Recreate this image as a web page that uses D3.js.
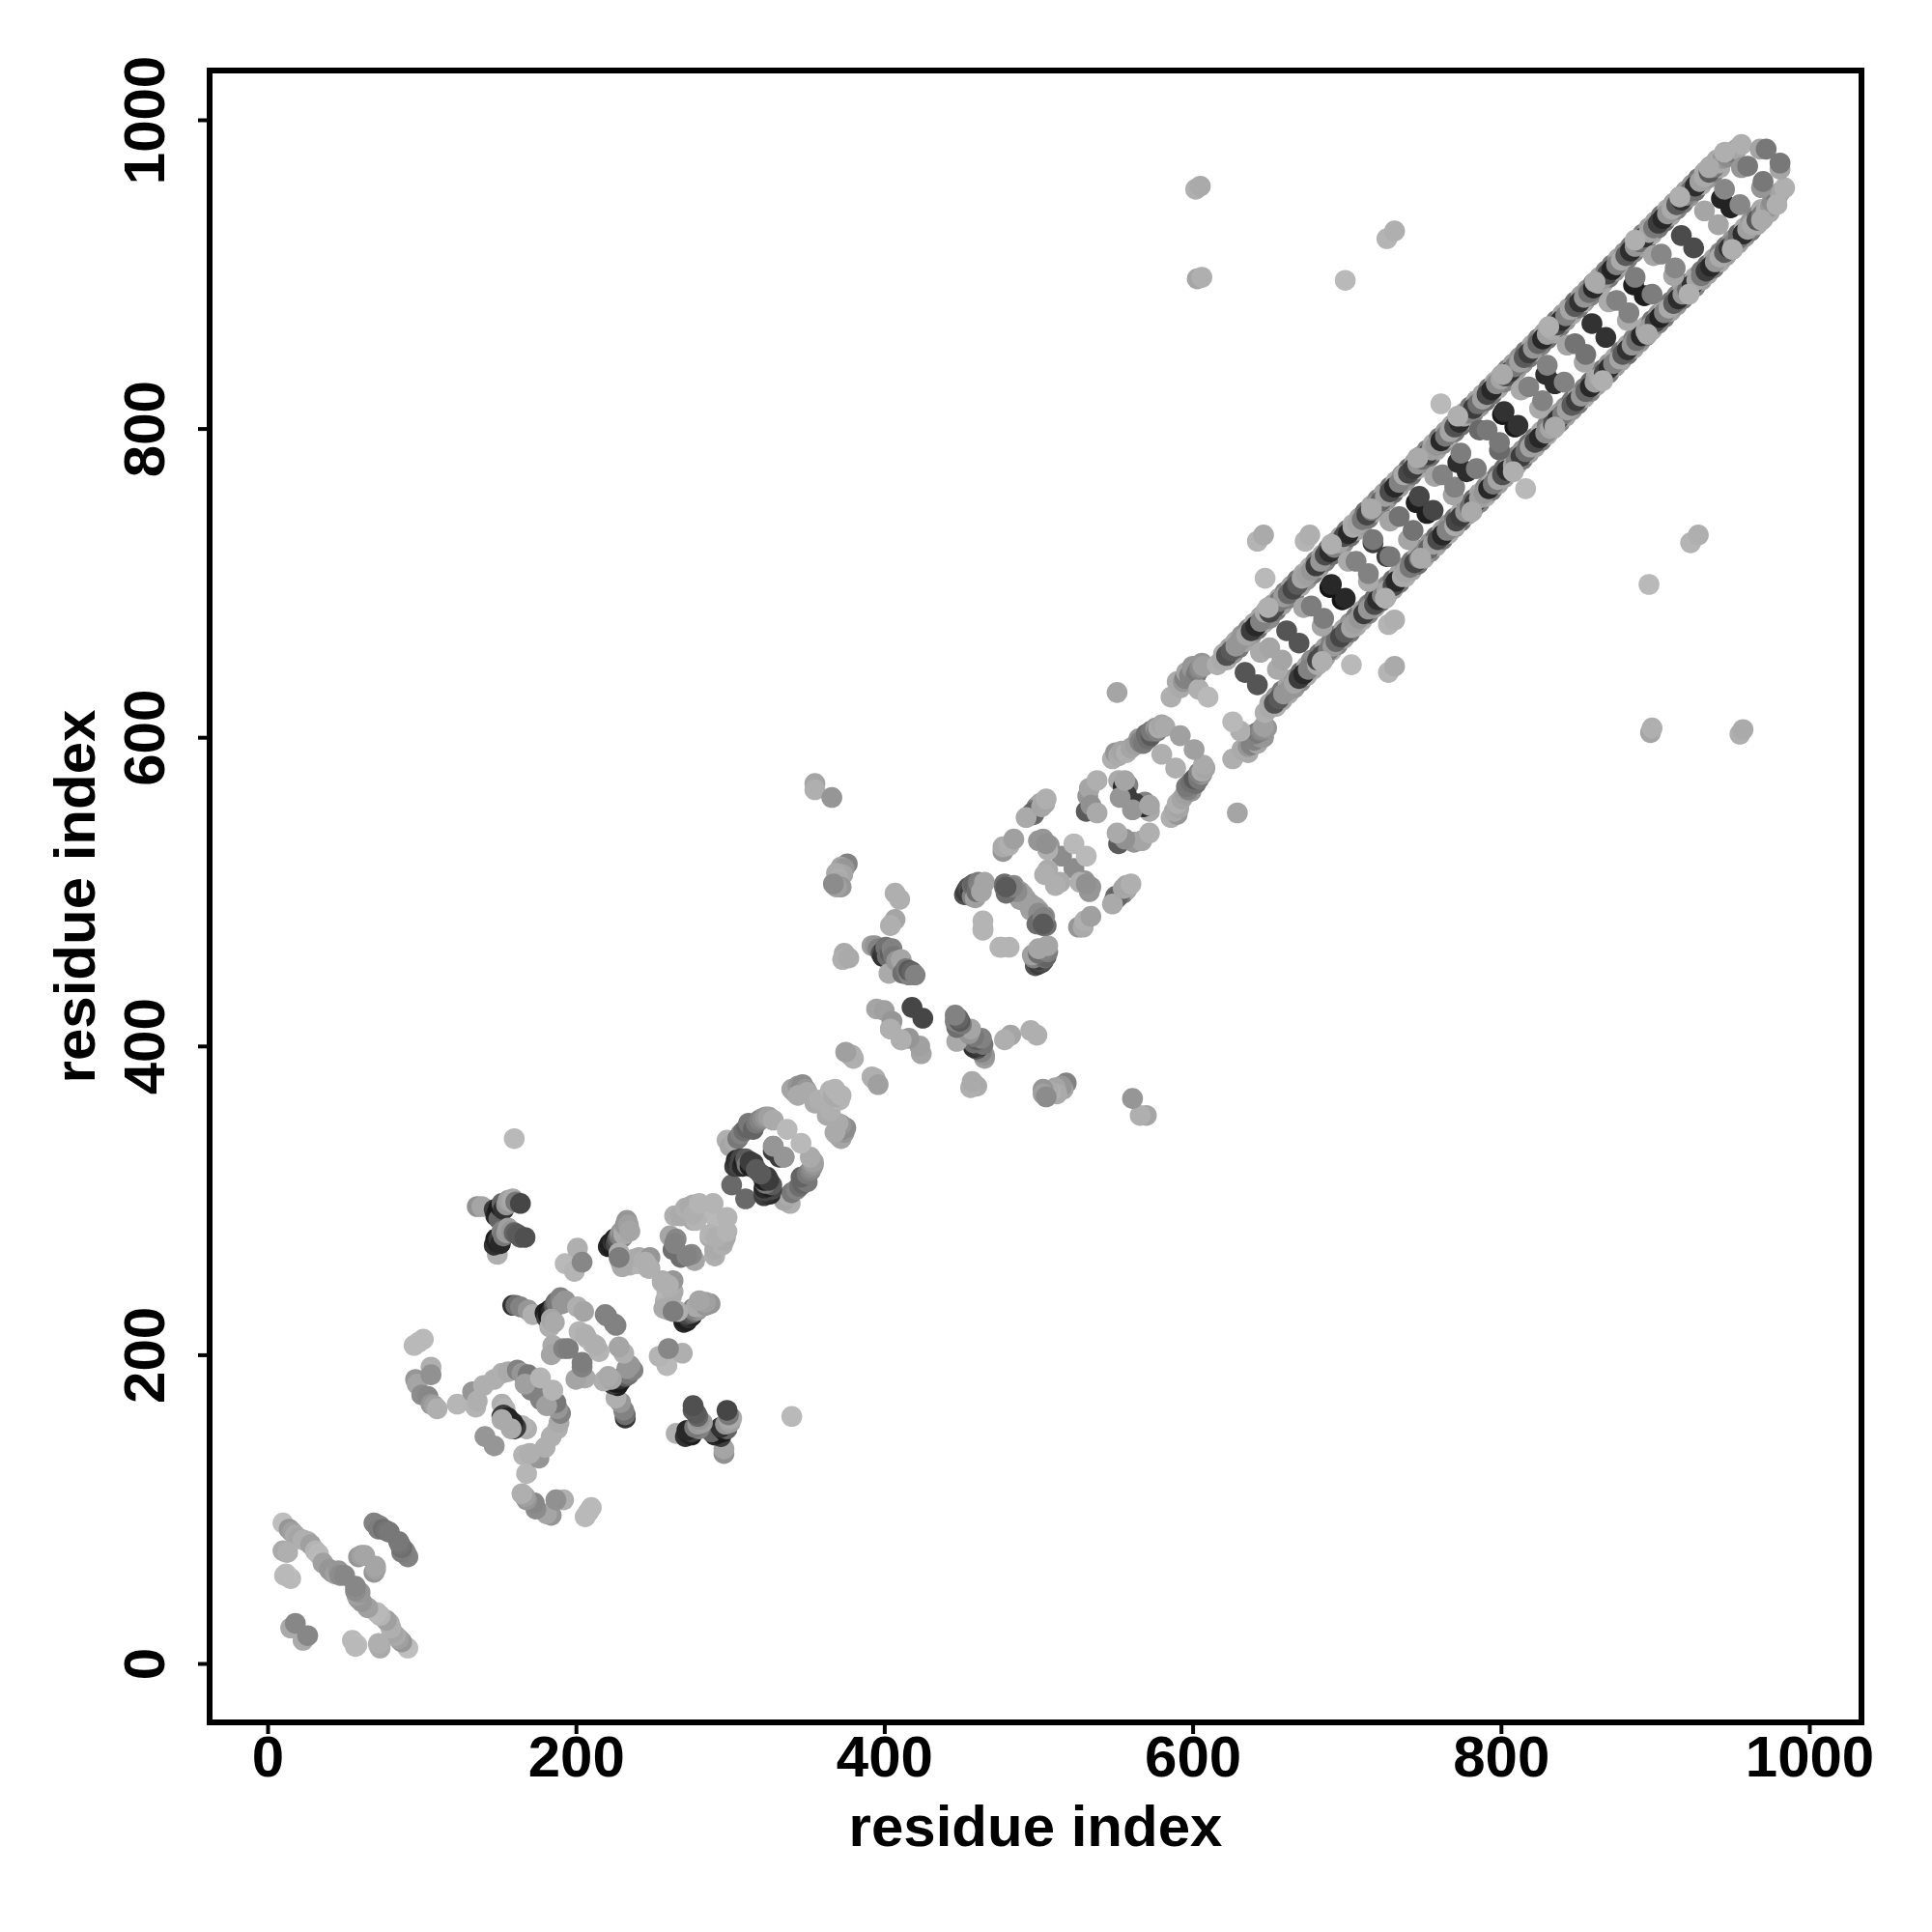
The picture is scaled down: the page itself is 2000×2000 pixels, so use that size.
<!DOCTYPE html>
<html><head><meta charset="utf-8">
<script src="https://cdn.jsdelivr.net/npm/d3@7"></script>
<style>html,body{margin:0;padding:0;background:#fff}</style></head>
<body><div id="chart"></div>
<script>
// contacts as [residue a, residue b, grey level]; the map is symmetric so each is drawn at (a,b) and (b,a)
const tickLabels = [0,200,400,600,800,1000];
const axisTitle = "residue index";
const lowBlock = [[10,91,190],[14,87,150],[16,85,160],[18,83,170],[20,81,165],[23,80,175],[26,79,175],[28,77,160],[31,73,180],[33,71,185],[36,65,160],[40,61,150],[42,59,150],[44,58,160],[46,60,150],[47,57,140],[50,57,135],
 [69,91,130],[71,90,130],[73,89,130],[72,87,125],[75,87,110],[77,86,115],[79,85,120],[59,69,150],[61,70,160],[63,70,165],[12,72,180],[10,73,170],[13,72,175],[15,55,185],[12,58,190],[11,57,185],[15,23,170],[18,26,135]];
const block100 = [[95,206,185],[98,208,185],[101,210,185],[96,184,150],[97,181,165],[106,192,175],[106,187,145],[100,174,140],[104,173,135],[106,168,150],[108,167,160],[110,165,175],
 [123,168,182],[133,176,150],[135,166,180],[136,170,175],[140,180,175],[147,184,175],[152,188,175],[156,189,170],[162,190,130],[165,188,150],[169,187,120],[171,177,130],[173,178,130],[167,181,160],[177,185,180],
 [141,147,150],[152,168,175],[154,165,180],[152,160,40],[153,161,60],[156,159,35],[152,158,170],
 [160,340,185],[136,296,145],[139,296,165],[147,294,60],[148,290,40],[149,292,30],[150,295,25],[150,288,100],[151,296,30],[152,298,100],[153,294,50],[155,297,150],[156,300,160],[158,299,165],[159,301,170],[161,299,120],[164,298,70],
 [149,265,175],[147,271,50],[148,275,30],[149,273,35],[150,275,60],[151,272,40],[152,280,130],[153,277,120],[155,279,155],[156,282,160],[158,280,150],[160,279,100],[162,278,90],[164,276,90],[167,276,80]];
const block200 = [[159,232,50],[161,232,110],[164,231,130],[169,229,150],[172,226,175],[180,227,30],[181,224,60],[182,226,25],[183,229,25],[184,228,40],[185,230,50],[186,232,90],[187,234,110],[188,233,120],[190,237,130],[191,233,150],[193,235,150],[183,218,175],[184,223,165],[186,221,170],
 [185,206,170],[184,200,165],[192,204,130],[195,204,125],[201,231,175],[205,228,165],[202,215,180],[207,211,180],[213,206,175],[220,225,125],[226,219,130],
 [193,259,185],[199,254,180],[201,269,175],[204,260,135],[221,270,40],[222,272,30],[223,270,30],[224,273,50],[225,275,35],[226,272,70],[227,275,90],[228,277,120],[229,279,150],[230,276,130],[231,281,160],[231,278,170],[232,284,150],[233,287,150],[234,284,160],[235,280,165],
 [229,260,175],[231,258,175],[235,258,175],[238,262,175],[240,259,180],[241,263,170],[244,261,175],[246,259,170],[248,263,150],[248,256,170],[228,266,175],[257,230,170],[256,247,175],[260,245,175],[263,228,125],
 [261,277,165],[265,275,135],[263,268,110],[264,272,130],[264,290,175],[268,290,170],[271,295,175],[274,296,170],[276,297,170],[276,287,170],[279,293,175],[282,296,180],[285,292,185],[287,295,185],[287,278,180],[289,298,180],[291,276,175],[298,280,180]];
const block300 = [[301,310,105],[298,339,175],[300,335,165],[303,338,170],[305,340,120],[307,343,130],[309,345,110],[311,347,100],[313,349,130],[303,322,60],[304,326,40],[305,324,50],[306,322,70],[307,327,70],[308,322,40],[309,325,30],[310,327,90],[311,323,120],[312,350,120],[313,322,30],[313,325,60],[315,346,100],[315,324,60],[317,350,120],[317,320,90],[319,352,130],[321,353,140],[323,354,150],[325,354,160],[328,352,170],
 [328,335,150],[328,332,60],[335,328,150],[337,346,185],[340,372,165],[342,370,165],[344,374,150],[346,372,130],[347,375,140],[349,372,150],[350,370,170],[344,368,170],[355,363,170],[358,365,175],[365,371,180],[367,368,170],[368,372,180],
 [355,570,165],[355,566,175],[366,561,150],[376,518,130],[372,516,165],[374,515,150],[373,511,165],[369,512,170],[370,508,175],[371,506,170],[372,503,150],[369,503,160],[367,505,140],
 [407,499,175],[410,495,175],[407,482,165],[404,478,175],[374,460,170],[373,456,175],[377,457,170],
 [392,465,160],[394,465,150],[396,463,130],[398,460,80],[399,458,50],[400,462,60],[401,464,115],[402,458,110],[403,447,170],[404,460,95],[405,463,130],[406,458,120],[408,455,150],[411,456,165],[412,447,110],[414,450,120],[416,446,130],[416,449,90],[418,448,100],[420,446,130],
 [378,394,170],[380,392,175],[394,379,175],[396,375,160],[395,424,165],[400,423,160],[404,411,160],[405,416,150],[411,404,175],[418,425,70]];
const block500 = [[452,498,80],[453,500,60],[454,502,70],[455,503,80],[456,500,60],[457,497,130],[457,504,110],[458,505,100],[459,496,160],[460,500,110],[461,506,125],[462,504,130],[463,500,165],[465,506,165],[464,481,180],[464,476,180],[475,464,180],[478,503,100],[478,505,110],[480,503,120],[481,500,130],[482,502,135],[484,504,140],[486,501,150],[488,500,155],[490,498,160],[492,495,160],[494,491,150],[495,488,160],[497,490,160],[500,486,140],[499,479,110],[503,483,130],[503,479,90],
 [500,533,150],[494,549,120],[497,550,110],[499,555,130],[501,557,165],[498,553,120],[496,551,100],[492,548,170],[502,555,165],[503,558,170],[504,557,165],[505,560,175],[477,526,150],[477,529,170],[481,530,175],[484,534,160],
 [503,534,150],[507,530,150],[515,523,140],[523,531,185],[506,514,170],[506,527,175],[505,531,145],[504,511,175],
 [551,629,165],[531,552,90],[532,562,150],[533,567,165],[534,556,145],[538,551,170],[538,572,175],
 [552,572,170],[555,568,40],[558,569,130],[557,563,60],[553,561,150],[556,572,165],
 [548,586,175],[550,590,150],[552,588,170],[554,591,165],[557,590,175],[560,593,165],[563,595,160],[565,599,150],[566,597,130],[568,596,120],[570,602,110],[571,599,110],[573,601,90],[573,604,120],[575,604,120],[576,606,150],[577,604,130],[578,606,170],[580,608,165],[582,607,170],
 [580,589,175],[592,601,160],[586,626,175],[590,636,170],[592,632,170],[594,636,150],[595,638,130],[596,642,165],[598,640,130],[600,644,150],[600,646,150],[602,640,130],[603,642,120],[604,631,175],[604,644,130],[605,645,140],[606,648,150],[607,646,160],[610,626,185],
 [602,955,175],[605,957,170],[603,897,165],[606,898,175],[699,896,185],[726,923,180],[731,928,175],[761,816,185],
 [642,727,180],[646,731,170],[673,727,180],[676,731,175],[647,703,185]];
const strandInner = [[622,650,170],[626,654,150],[630,658,120],[634,662,165],[638,666,150],[642,670,110],[646,674,170],[650,677,140],[654,682,120],[658,686,160],[662,690,130],[666,694,110],[670,698,170],[674,702,150],[678,706,120],[682,710,160],[686,714,130],[690,718,110],[694,722,170],[698,726,140],[702,730,110],[706,734,165],[710,738,150],[714,742,120],[718,746,170],[722,750,130],[726,754,150],[730,758,110],[734,762,160],[738,766,150],[742,770,120],[746,774,170],[750,778,130],[754,782,110],[758,786,165],[762,790,140],[766,794,170],[770,798,120],[774,802,110],[778,806,165],[782,810,130],[786,814,150],[790,818,110],[794,822,120],[798,826,170],[802,830,130],[806,834,110],[810,838,160],[814,842,150],[818,846,120],[822,850,165],[826,854,130],[830,858,110],[834,862,170],[838,866,120],[842,870,150],[846,874,170],[850,878,120],[854,882,165],[858,886,130],[862,890,110],[866,894,170],[870,898,120],[874,902,150],[878,906,170],[882,910,120],[886,914,130],[890,918,165],[894,922,110],[898,926,170],[902,930,120],[906,934,110],[910,938,165],[914,942,130],[918,946,120],[922,950,150],[926,954,110],[930,958,170],[934,962,150],[938,966,130],[942,969,170]];
const strandUpper = [[620,654,175],[624,658,165],[628,662,170],[632,666,150],[636,670,140],[640,674,170],[644,678,165],[648,682,130],[652,686,160],[656,690,170],[660,694,130],[664,698,160],[668,702,120],[672,706,170],[676,710,175],[680,714,130],[684,718,165],[688,722,110],[692,726,160],[696,730,165],[700,734,120],[704,738,175],[708,742,165],[712,746,110],[716,750,170],[720,754,130],[724,758,165],[728,762,120],[732,766,170],[736,770,150],[740,774,110],[744,778,165],[748,782,150],[752,786,130],[756,790,170],[760,794,120],[764,798,160],[768,802,165],[772,806,130],[776,810,170],[780,814,120],[784,818,160],[788,822,165],[792,826,120],[796,830,170],[800,834,165],[804,838,130],[808,842,160],[812,846,150],[816,850,120],[820,854,170],[824,858,130],[828,862,165],[832,866,170],[836,870,120],[840,874,160],[844,878,165],[848,882,110],[852,886,160],[856,890,150],[860,894,120],[864,898,170],[868,902,130],[872,906,120],[876,910,165],[880,914,150],[884,918,120],[888,922,170],[892,926,130],[896,930,160],[900,934,165],[904,938,120],[908,942,170],[912,946,160],[916,950,130],[920,954,160],[924,958,150],[928,962,120],[932,966,170],[936,970,165],[940,974,170]];
const strand = [[616,647,175],[619,650,170],[622,653,80],[625,656,90],[628,659,150],[631,663,150],[635,666,165],[638,669,60],[641,672,40],[644,675,130],[647,681,170],[650,681,70],[653,684,75],[656,688,120],[659,691,155],[662,693,105],[665,696,70],[668,699,90],[671,703,165],[674,705,160],[677,708,150],[680,711,60],[683,714,150],[686,718,75],[689,720,45],[692,723,130],[695,726,165],[698,730,75],[701,732,40],[704,736,170],[707,738,165],[710,741,120],[713,744,70],[716,747,120],[719,751,150],[722,753,100],[725,756,160],[728,759,75],[731,762,40],[734,765,130],[737,770,170],[740,771,70],[743,774,60],[746,777,150],[749,780,110],[752,783,60],[755,786,160],[758,789,150],[761,792,40],[764,795,120],[767,798,165],[770,801,80],[773,804,45],[776,808,165],
 [779,810,130],[782,813,60],[785,816,110],[788,819,160],[791,822,70],[794,825,40],[797,829,140],[800,832,165],[803,834,80],[806,837,50],[809,840,120],[812,843,160],[815,846,90],[818,849,60],[821,852,150],[824,855,100],[827,858,40],[830,861,160],[833,864,170],[836,867,75],[839,870,45],[842,873,130],[845,877,165],[848,879,90],[851,882,50],[854,885,150],[857,888,110],[860,891,40],[863,894,165],[866,897,155],[869,900,70],[872,903,35],[875,906,130],[878,909,170],[881,912,90],[884,915,45],[887,918,150],[890,921,110],[893,924,50],[896,927,165],[899,930,120],[902,933,60],[905,936,40],[908,939,150],[911,942,170],[914,945,90],[917,948,50],[920,951,130],[923,954,110],[926,957,45],[929,960,160],[932,963,170],[935,966,90],[938,969,120],[941,972,170],[944,975,150],[947,976,140],[950,979,120],[953,981,165],[956,984,175]];
const strandOuter = [[649,684,175],[690,725,175],[716,748,170],[746,781,170],[772,808,175],[801,835,170],[831,866,175],[861,895,170],[887,922,175],[916,950,175],[935,969,170],[945,979,175]];
const rungs = [[634,642,85],[644,655,170],[650,658,165],[661,669,85],[672,684,165],[677,685,125],[689,697,20],[690,699,40],[701,714,170],[706,714,130],[717,726,60],[717,728,120],
 [728,740,165],[734,743,115],[745,752,30],[747,756,70],[757,769,165],[762,770,130],[772,778,45],[774,784,125],[786,799,105],[791,799,120],[801,809,25],[802,811,50],[813,825,170],[818,827,130],[829,835,45],[830,841,130],
 [843,854,165],[848,855,115],[859,868,50],[870,882,170],[875,883,130],[886,893,30],[887,898,125],[899,912,165],[904,913,135],[917,925,75],[932,941,165],[943,949,35],[945,955,135],[956,969,150],[960,970,120],[968,981,165],[972,981,120]];

const contacts = [].concat(lowBlock, block100, block200, block300, block500, strandInner, strandUpper, strand, strandOuter, rungs);
const points = contacts.flatMap(([a,b,g]) => [{x:a,y:b,g},{x:b,y:a,g}]);

const W = 2000, H = 2000;
const x = d3.scaleLinear().domain([0,1000]).range([277,1873]);
const y = d3.scaleLinear().domain([0,1000]).range([1722,124]);
const frame = {l:217, r:1927, t:73, b:1783};
const font = "'Liberation Sans', Arial, sans-serif";

const svg = d3.select("#chart").append("svg").attr("width",W).attr("height",H).style("display","block");
svg.append("rect").attr("width",W).attr("height",H).attr("fill","#fff");

svg.append("g").selectAll("circle").data(points).join("circle")
  .attr("cx",d=>x(d.x)).attr("cy",d=>y(d.y)).attr("r",10.8)
  .attr("fill",d=>d3.rgb(d.g,d.g,d.g).formatHex());

const xAxis = svg.append("g").attr("transform",`translate(0,${frame.b})`)
  .call(d3.axisBottom(x).tickValues(tickLabels).tickSize(12).tickSizeOuter(0).tickFormat(d3.format("d")));
const yAxis = svg.append("g").attr("transform",`translate(${frame.l},0)`)
  .call(d3.axisLeft(y).tickValues(tickLabels).tickSize(12).tickSizeOuter(0).tickFormat(d3.format("d")));
[xAxis,yAxis].forEach(g=>{
  g.select(".domain").remove();
  g.selectAll(".tick line").attr("stroke","#000").attr("stroke-width",4);
  g.selectAll(".tick text").attr("fill","#000").style("font-family",font).style("font-weight","bold").style("font-size","60px");
});
xAxis.selectAll(".tick text").attr("dy",null).attr("y",56).attr("text-anchor","middle");
yAxis.selectAll(".tick text").attr("x",null).attr("dy",null).attr("text-anchor","middle")
  .attr("transform","translate(-47,0) rotate(-90)");

svg.append("rect").attr("x",frame.l).attr("y",frame.t).attr("width",frame.r-frame.l).attr("height",frame.b-frame.t)
  .attr("fill","none").attr("stroke","#000").attr("stroke-width",6);

svg.append("text").attr("x",1072).attr("y",1911).attr("text-anchor","middle").text(axisTitle)
  .style("font-family",font).style("font-weight","bold").style("font-size","60px");
svg.append("text").attr("transform","translate(98,928) rotate(-90)").attr("text-anchor","middle").text(axisTitle)
  .style("font-family",font).style("font-weight","bold").style("font-size","60px");
</script></body></html>
